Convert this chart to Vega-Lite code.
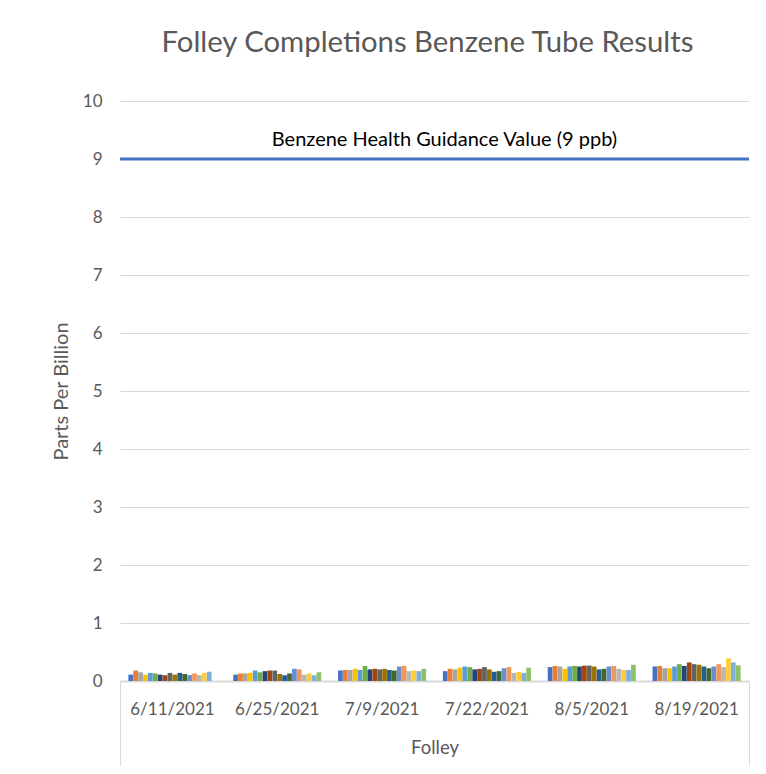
{
  "$schema": "https://vega.github.io/schema/vega-lite/v6.json",
  "width": 629,
  "height": 580,
  "autosize": {"type": "none"},
  "padding": {"left": 120, "top": 101, "right": 17, "bottom": 93},
  "background": "white",
  "title": {
    "text": "Folley Completions Benzene Tube Results",
    "font": "Lato",
    "fontSize": 29.3,
    "fontWeight": "normal",
    "color": "#595959",
    "anchor": "middle",
    "dx": -7,
    "offset": 34
  },
  "config": {
    "view": {"stroke": null},
    "axis": {"labelFont": "Lato", "titleFont": "Lato", "labelColor": "#595959", "titleColor": "#595959", "titleFontWeight": "normal"}
  },
  "layer": [
    {
      "data": {
        "values": [
          {"date": "6/11/2021", "tube": "T01", "ppb": 0.11}, {"date": "6/11/2021", "tube": "T02", "ppb": 0.18}, {"date": "6/11/2021", "tube": "T03", "ppb": 0.15}, {"date": "6/11/2021", "tube": "T04", "ppb": 0.11}, {"date": "6/11/2021", "tube": "T05", "ppb": 0.14}, {"date": "6/11/2021", "tube": "T06", "ppb": 0.13}, {"date": "6/11/2021", "tube": "T07", "ppb": 0.11}, {"date": "6/11/2021", "tube": "T08", "ppb": 0.10}, {"date": "6/11/2021", "tube": "T09", "ppb": 0.14}, {"date": "6/11/2021", "tube": "T10", "ppb": 0.11}, {"date": "6/11/2021", "tube": "T11", "ppb": 0.14}, {"date": "6/11/2021", "tube": "T12", "ppb": 0.12}, {"date": "6/11/2021", "tube": "T13", "ppb": 0.10}, {"date": "6/11/2021", "tube": "T14", "ppb": 0.13}, {"date": "6/11/2021", "tube": "T15", "ppb": 0.10}, {"date": "6/11/2021", "tube": "T16", "ppb": 0.14}, {"date": "6/11/2021", "tube": "T17", "ppb": 0.16},
          {"date": "6/25/2021", "tube": "T01", "ppb": 0.11}, {"date": "6/25/2021", "tube": "T02", "ppb": 0.13}, {"date": "6/25/2021", "tube": "T03", "ppb": 0.13}, {"date": "6/25/2021", "tube": "T04", "ppb": 0.14}, {"date": "6/25/2021", "tube": "T05", "ppb": 0.18}, {"date": "6/25/2021", "tube": "T06", "ppb": 0.15}, {"date": "6/25/2021", "tube": "T07", "ppb": 0.17}, {"date": "6/25/2021", "tube": "T08", "ppb": 0.18}, {"date": "6/25/2021", "tube": "T09", "ppb": 0.18}, {"date": "6/25/2021", "tube": "T10", "ppb": 0.12}, {"date": "6/25/2021", "tube": "T11", "ppb": 0.10}, {"date": "6/25/2021", "tube": "T12", "ppb": 0.13}, {"date": "6/25/2021", "tube": "T13", "ppb": 0.21}, {"date": "6/25/2021", "tube": "T14", "ppb": 0.20}, {"date": "6/25/2021", "tube": "T15", "ppb": 0.11}, {"date": "6/25/2021", "tube": "T16", "ppb": 0.13}, {"date": "6/25/2021", "tube": "T17", "ppb": 0.10}, {"date": "6/25/2021", "tube": "T18", "ppb": 0.15},
          {"date": "7/9/2021", "tube": "T01", "ppb": 0.18}, {"date": "7/9/2021", "tube": "T02", "ppb": 0.19}, {"date": "7/9/2021", "tube": "T03", "ppb": 0.19}, {"date": "7/9/2021", "tube": "T04", "ppb": 0.21}, {"date": "7/9/2021", "tube": "T05", "ppb": 0.19}, {"date": "7/9/2021", "tube": "T06", "ppb": 0.26}, {"date": "7/9/2021", "tube": "T07", "ppb": 0.20}, {"date": "7/9/2021", "tube": "T08", "ppb": 0.21}, {"date": "7/9/2021", "tube": "T09", "ppb": 0.20}, {"date": "7/9/2021", "tube": "T10", "ppb": 0.21}, {"date": "7/9/2021", "tube": "T11", "ppb": 0.19}, {"date": "7/9/2021", "tube": "T12", "ppb": 0.18}, {"date": "7/9/2021", "tube": "T13", "ppb": 0.25}, {"date": "7/9/2021", "tube": "T14", "ppb": 0.26}, {"date": "7/9/2021", "tube": "T15", "ppb": 0.17}, {"date": "7/9/2021", "tube": "T16", "ppb": 0.18}, {"date": "7/9/2021", "tube": "T17", "ppb": 0.17}, {"date": "7/9/2021", "tube": "T18", "ppb": 0.21},
          {"date": "7/22/2021", "tube": "T01", "ppb": 0.17}, {"date": "7/22/2021", "tube": "T02", "ppb": 0.21}, {"date": "7/22/2021", "tube": "T03", "ppb": 0.20}, {"date": "7/22/2021", "tube": "T04", "ppb": 0.23}, {"date": "7/22/2021", "tube": "T05", "ppb": 0.25}, {"date": "7/22/2021", "tube": "T06", "ppb": 0.24}, {"date": "7/22/2021", "tube": "T07", "ppb": 0.20}, {"date": "7/22/2021", "tube": "T08", "ppb": 0.21}, {"date": "7/22/2021", "tube": "T09", "ppb": 0.24}, {"date": "7/22/2021", "tube": "T10", "ppb": 0.20}, {"date": "7/22/2021", "tube": "T11", "ppb": 0.16}, {"date": "7/22/2021", "tube": "T12", "ppb": 0.17}, {"date": "7/22/2021", "tube": "T13", "ppb": 0.22}, {"date": "7/22/2021", "tube": "T14", "ppb": 0.24}, {"date": "7/22/2021", "tube": "T15", "ppb": 0.14}, {"date": "7/22/2021", "tube": "T16", "ppb": 0.155}, {"date": "7/22/2021", "tube": "T17", "ppb": 0.14}, {"date": "7/22/2021", "tube": "T18", "ppb": 0.23},
          {"date": "8/5/2021", "tube": "T01", "ppb": 0.24}, {"date": "8/5/2021", "tube": "T02", "ppb": 0.26}, {"date": "8/5/2021", "tube": "T03", "ppb": 0.25}, {"date": "8/5/2021", "tube": "T04", "ppb": 0.21}, {"date": "8/5/2021", "tube": "T05", "ppb": 0.25}, {"date": "8/5/2021", "tube": "T06", "ppb": 0.26}, {"date": "8/5/2021", "tube": "T07", "ppb": 0.25}, {"date": "8/5/2021", "tube": "T08", "ppb": 0.265}, {"date": "8/5/2021", "tube": "T09", "ppb": 0.265}, {"date": "8/5/2021", "tube": "T10", "ppb": 0.25}, {"date": "8/5/2021", "tube": "T11", "ppb": 0.20}, {"date": "8/5/2021", "tube": "T12", "ppb": 0.21}, {"date": "8/5/2021", "tube": "T13", "ppb": 0.25}, {"date": "8/5/2021", "tube": "T14", "ppb": 0.26}, {"date": "8/5/2021", "tube": "T15", "ppb": 0.21}, {"date": "8/5/2021", "tube": "T16", "ppb": 0.19}, {"date": "8/5/2021", "tube": "T17", "ppb": 0.19}, {"date": "8/5/2021", "tube": "T18", "ppb": 0.28},
          {"date": "8/19/2021", "tube": "T01", "ppb": 0.25}, {"date": "8/19/2021", "tube": "T02", "ppb": 0.26}, {"date": "8/19/2021", "tube": "T03", "ppb": 0.22}, {"date": "8/19/2021", "tube": "T04", "ppb": 0.22}, {"date": "8/19/2021", "tube": "T05", "ppb": 0.25}, {"date": "8/19/2021", "tube": "T06", "ppb": 0.29}, {"date": "8/19/2021", "tube": "T07", "ppb": 0.26}, {"date": "8/19/2021", "tube": "T08", "ppb": 0.32}, {"date": "8/19/2021", "tube": "T09", "ppb": 0.29}, {"date": "8/19/2021", "tube": "T10", "ppb": 0.28}, {"date": "8/19/2021", "tube": "T11", "ppb": 0.25}, {"date": "8/19/2021", "tube": "T12", "ppb": 0.22}, {"date": "8/19/2021", "tube": "T13", "ppb": 0.25}, {"date": "8/19/2021", "tube": "T14", "ppb": 0.29}, {"date": "8/19/2021", "tube": "T15", "ppb": 0.24}, {"date": "8/19/2021", "tube": "T16", "ppb": 0.39}, {"date": "8/19/2021", "tube": "T17", "ppb": 0.32}, {"date": "8/19/2021", "tube": "T18", "ppb": 0.27}
        ]
      },
      "mark": {"type": "bar"},
      "encoding": {
        "x": {
          "field": "date", "type": "nominal",
          "scale": {"domain": ["6/11/2021","6/25/2021","7/9/2021","7/22/2021","8/5/2021","8/19/2021"], "paddingInner": 0.16, "paddingOuter": 0.08},
          "axis": {"title": "Folley", "titleFontSize": 18.5, "titlePadding": 21, "labelFontSize": 17, "labelAngle": 0, "labelPadding": 20, "ticks": false, "domainColor": "#d9d9d9", "domainWidth": 2, "grid": false}
        },
        "xOffset": {"field": "tube", "type": "nominal", "scale": {"paddingInner": 0.04}},
        "y": {
          "field": "ppb", "type": "quantitative",
          "scale": {"domain": [0, 10]},
          "axis": {"title": "Parts Per Billion", "titleFontSize": 20, "titlePadding": 11, "labelFontSize": 17, "labelPadding": 18, "format": "d", "values": [0,1,2,3,4,5,6,7,8,9,10], "ticks": false, "domain": false, "gridColor": "#d9d9d9"}
        },
        "color": {
          "field": "tube", "type": "nominal", "legend": null,
          "scale": {
            "domain": ["T01","T02","T03","T04","T05","T06","T07","T08","T09","T10","T11","T12","T13","T14","T15","T16","T17","T18"],
            "range": ["#4472C4","#ED7D31","#A5A5A5","#FFC000","#5B9BD5","#70AD47","#264478","#9E480E","#636363","#997300","#255E91","#43682B","#698ED0","#F1975A","#B7B7B7","#FFCD33","#7CAFDD","#8CC168"]
          }
        }
      }
    },
    {
      "data": {"values": [{"label": "Benzene Health Guidance Value (9 ppb)", "ppb": 9, "labelPos": 9.33, "group": "Folley"}]},
      "layer": [
        {
          "mark": {"type": "rule", "color": "#4472C4", "strokeWidth": 3},
          "encoding": {"y": {"field": "ppb", "type": "quantitative"}}
        },
        {
          "mark": {"type": "text", "font": "Lato", "fontSize": 20, "color": "#000000", "align": "center", "baseline": "middle", "dx": 10},
          "encoding": {
            "x": {"field": "group", "type": "nominal",
              "scale": {"paddingInner": 0, "paddingOuter": 0},
              "axis": {"orient": "bottom", "labels": false, "domain": false, "grid": false, "title": null, "ticks": true, "tickBand": "extent", "tickExtra": true, "tickSize": 84, "tickColor": "#d9d9d9", "tickWidth": 1}},
            "y": {"field": "labelPos", "type": "quantitative"},
            "text": {"field": "label"}
          }
        }
      ]
    }
  ],
  "resolve": {"scale": {"x": "independent"}, "axis": {"x": "independent"}}
}
